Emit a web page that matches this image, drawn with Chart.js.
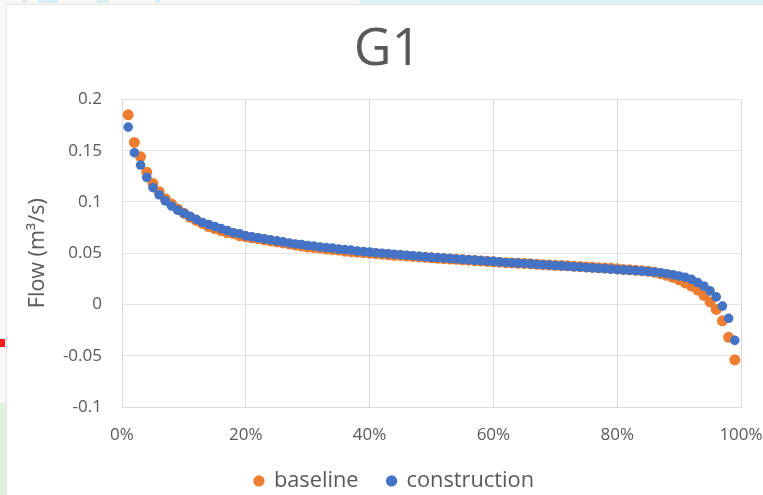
<!DOCTYPE html>
<html>
<head>
<meta charset="utf-8">
<title>G1</title>
<script src="https://cdn.jsdelivr.net/npm/chart.js@4"></script>
<style>
    html, body { margin: 0; padding: 0; width: 763px; height: 495px; overflow: hidden; background: #f8f8f5; }
    /* scraps of the page behind the chart */
    .top-strip { position: absolute; left: 360px; top: 0; width: 403px; height: 4px; background: #dcf1f6; }
    .top-left { position: absolute; left: 0; top: 0; width: 360px; height: 3px; background: linear-gradient(90deg, #f6f8f5 22px, #d8eef3 22px, #d8eef3 27px, #f6f8f5 27px, #f6f8f5 38px, #d8eef3 38px, #d8eef3 58px, #f6f8f5 58px, #f6f8f5 97px, #d8eef3 97px, #d8eef3 109px, #f6f8f5 109px, #f6f8f5 155px, #d8eef3 155px, #d8eef3 160px, #f6f8f5 160px); }
    .green { position: absolute; left: 0; top: 403px; width: 6px; height: 92px; background: #dff0dc; }
    .red { position: absolute; left: 0; top: 339px; width: 5px; height: 8px; background: #f02020; }
    .panel { position: absolute; left: 6px; top: 4px; width: 757px; height: 491px; background: #fff; border-left: 1px solid #e4e4e2; border-top: 1px solid #e4e4e2; box-sizing: border-box; overflow: hidden; }
    #chart { position: absolute; left: -7px; top: -5px; }
</style>
</head>
<body>
<div class="top-left"></div>
<div class="top-strip"></div>
<div class="red"></div>
<div class="green"></div>
<div class="panel"><canvas id="chart" width="820" height="495"></canvas></div>
<script>
const percents = [
    1, 2, 3, 4, 5, 6, 7, 8, 9, 10,
    11, 12, 13, 14, 15, 16, 17, 18, 19, 20,
    21, 22, 23, 24, 25, 26, 27, 28, 29, 30,
    31, 32, 33, 34, 35, 36, 37, 38, 39, 40,
    41, 42, 43, 44, 45, 46, 47, 48, 49, 50,
    51, 52, 53, 54, 55, 56, 57, 58, 59, 60,
    61, 62, 63, 64, 65, 66, 67, 68, 69, 70,
    71, 72, 73, 74, 75, 76, 77, 78, 79, 80,
    81, 82, 83, 84, 85, 86, 87, 88, 89, 90,
    91, 92, 93, 94, 95, 96, 97, 98, 99
];
const baseline = [
    .185, .158, .144, .129, .118, .110, .103, .098, .093, .089,
    .085, .082, .079, .076, .074, .072, .070, .069, .067, .066,
    .065, .064, .063, .062, .061, .060, .059, .058, .057, .056,
    .0555, .055, .054, .0535, .053, .052, .0515, .051, .0505, .050,
    .0495, .049, .0485, .048, .0478, .0472, .0468, .0464, .046, .0455,
    .045, .0447, .0443, .044, .0435, .0432, .0428, .0425, .042, .0416,
    .0412, .0408, .0405, .0402, .04, .0396, .0392, .0388, .0385, .0382,
    .038, .0377, .0373, .037, .0366, .0362, .0358, .0355, .0352, .0348,
    .0342, .0338, .0334, .033, .0325, .0315, .030, .0285, .0265, .024,
    .021, .018, .014, .009, .0025, -.0048, -.016, -.032, -.054
];
const construction = [
    .173, .148, .136, .124, .114, .107, .101, .096, .092, .089,
    .086, .083, .080, .078, .076, .074, .072, .070, .069, .067,
    .066, .065, .064, .063, .062, .061, .060, .059, .0585, .0575,
    .057, .056, .0555, .055, .054, .0535, .053, .052, .0515, .051,
    .0505, .05, .0495, .049, .0485, .048, .0475, .047, .0465, .046,
    .0458, .0452, .0448, .0443, .044, .0435, .0432, .0428, .0424, .042,
    .0415, .041, .0407, .0403, .04, .0396, .0392, .0388, .0385, .038,
    .0376, .0372, .0368, .0365, .036, .0357, .0353, .035, .0345, .034,
    .0337, .0333, .033, .0325, .032, .0315, .031, .030, .029, .0278,
    .0265, .0245, .0214, .018, .0133, .0074, -.0016, -.0135, -.035
];
const seriesNames = ['baseline', 'construction'];
const FONT = 'Open Sans';

const toPoints = values => values.map((v, i) => ({ x: percents[i], y: v }));

// keep the wide gap between legend items without the legend eating plot height
const legendTweak = {
    id: 'legendTweak',
    beforeInit(chart) {
        const fit = chart.legend.fit;
        chart.legend.fit = function () {
            fit.call(this);
            this.height = 54;
        };
    },
    afterLayout(chart) {
        // legend sits a little right of the centre of the chart
        chart.legend.left += 7;
        chart.legend.right += 7;
    }
};

new Chart(document.getElementById('chart'), {
    type: 'scatter',
    plugins: [legendTweak],
    data: {
        datasets: [
            { label: seriesNames[0], data: toPoints(baseline), backgroundColor: '#ed7d31', borderColor: '#ed7d31', pointRadius: 5.5, borderWidth: 0, order: 2 },
            { label: seriesNames[1], data: toPoints(construction), backgroundColor: '#4472c4', borderColor: '#4472c4', pointRadius: 4.8, borderWidth: 0, order: 1 }
        ]
    },
    options: {
        responsive: false,
        animation: false,
        layout: { padding: { left: 34, right: 79, top: 19, bottom: 0 } },
        plugins: {
            tooltip: { enabled: false },
            title: {
                display: true,
                text: 'G1',
                color: '#595959',
                font: { family: FONT, size: 52, weight: 'normal' },
                padding: { top: 0, bottom: 18 }
            },
            legend: {
                position: 'bottom',
                labels: {
                    usePointStyle: true,
                    pointStyle: 'circle',
                    boxWidth: 8,
                    boxHeight: 8,
                    color: '#595959',
                    font: { family: FONT, size: 21.8 },
                    padding: 29,
                    sort: (a, b) => a.datasetIndex - b.datasetIndex
                }
            }
        },
        scales: {
            x: {
                type: 'linear',
                min: 0,
                max: 100,
                afterFit: scale => { scale.height = 34; },
                grid: { color: '#d9d9d9', drawTicks: false },
                border: { color: '#d9d9d9' },
                ticks: {
                    stepSize: 20,
                    color: '#595959',
                    font: { family: FONT, size: 17 },
                    padding: 18,
                    maxRotation: 0,
                    callback: v => v + '%'
                }
            },
            y: {
                min: -0.1,
                max: 0.2,
                afterFit: scale => { scale.width = 88; },
                grid: {
                    color: ctx => ctx.tick.value === 0 ? '#bfbfbf' : '#e3e3e3',
                    drawTicks: false
                },
                border: { color: '#d9d9d9' },
                title: {
                    display: true,
                    text: 'Flow (m³/s)',
                    color: '#595959',
                    font: { family: FONT, size: 21.5 },
                    padding: { top: -9, bottom: 0 }
                },
                ticks: {
                    stepSize: 0.05,
                    color: '#595959',
                    font: { family: FONT, size: 17 },
                    padding: 20,
                    callback: v => String(Math.round(v * 100) / 100)
                }
            }
        }
    }
});
</script>
</body>
</html>
